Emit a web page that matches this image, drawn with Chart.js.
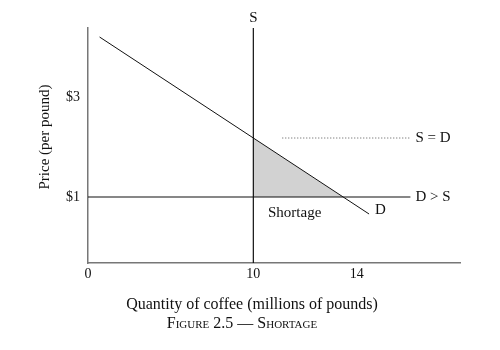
<!DOCTYPE html>
<html>
<head>
<meta charset="utf-8">
<script src="https://cdn.jsdelivr.net/npm/chart.js@4"></script>
<style>
html,body{margin:0;padding:0;background:#fff;}
#wrap{width:500px;height:350px;position:relative;}
</style>
</head>
<body>
<div id="wrap"><canvas id="c" width="500" height="350"></canvas></div>
<script>
// ---- data ----
const xTickPositions = [0, 10, 16.25];
const xTickLabels = ["0", "10", "14"];
const yTickPositions = [1, 3];
const yTickLabels = ["$1", "$3"];

const demandX = [0.7, 17.0];
const demandY = [4.2, 0.66];

const supplyQty = 10;
const supplyPriceRange = [-0.32, 4.38];

const belowPrice = 1;          // price below equilibrium
const equilibriumPrice = 2.18; // where D meets S
const shortageEndQty = 15.41;  // where D meets the $1 line
const priceLineEndQty = 19.5;
const dottedStartQty = 11.75;

const xTitle = "Quantity of coffee (millions of pounds)";
const yTitle = "Price (per pound)";
const caption = "Figure 2.5 — Shortage";

const SERIF = '"Liberation Serif", "DejaVu Serif", serif';

const labelsPlugin = {
  id: 'labelsPlugin',
  afterDatasetsDraw(chart) {
    const {ctx, scales: {x, y}, chartArea} = chart;
    ctx.save();
    ctx.fillStyle = '#111';
    ctx.font = '15px ' + SERIF;
    ctx.textBaseline = 'middle';
    // S label above supply line
    ctx.textAlign = 'center';
    ctx.fillText('S', x.getPixelForValue(supplyQty), chartArea.top - 10);
    // S = D
    ctx.textAlign = 'left';
    ctx.fillText('S = D', x.getPixelForValue(priceLineEndQty) + 5, y.getPixelForValue(equilibriumPrice));
    // D > S
    ctx.fillText('D > S', x.getPixelForValue(priceLineEndQty) + 5, y.getPixelForValue(belowPrice));
    // D
    ctx.fillText('D', x.getPixelForValue(demandX[1]) + 6, y.getPixelForValue(demandY[1]) - 4);
    // Shortage
    ctx.textAlign = 'center';
    ctx.fillText('Shortage', x.getPixelForValue(12.5), y.getPixelForValue(0.68));
    // axis titles
    ctx.font = '16px ' + SERIF;
    ctx.fillText(xTitle, 252, 305);
    ctx.font = '15px ' + SERIF;
    ctx.save();
    ctx.translate(45, 137);
    ctx.rotate(-Math.PI / 2);
    ctx.fillText(yTitle, 0, 0);
    ctx.restore();
    // caption in small caps
    ctx.font = 'small-caps 16px ' + SERIF;
    ctx.fillText(caption, 242, 324);
    ctx.restore();
  }
};

new Chart(document.getElementById('c'), {
  type: 'scatter',
  data: {
    datasets: [
      {
        label: 'Shortage area',
        data: [
          {x: supplyQty, y: belowPrice},
          {x: supplyQty, y: equilibriumPrice},
          {x: shortageEndQty, y: belowPrice},
          {x: supplyQty, y: belowPrice}
        ],
        showLine: true, fill: 'shape', backgroundColor: '#d2d2d2',
        borderWidth: 0, pointRadius: 0, order: 10
      },
      {
        label: 'Demand',
        data: demandX.map((v, i) => ({x: v, y: demandY[i]})),
        showLine: true, borderColor: '#111', borderWidth: 1, pointRadius: 0, order: 1
      },
      {
        label: 'Supply',
        data: supplyPriceRange.map(p => ({x: supplyQty, y: p})),
        showLine: true, borderColor: '#111', borderWidth: 1.2, pointRadius: 0, order: 1
      },
      {
        label: 'Price $1',
        data: [{x: 0, y: belowPrice}, {x: priceLineEndQty, y: belowPrice}],
        showLine: true, borderColor: '#111', borderWidth: 1.2, pointRadius: 0, order: 1
      },
      {
        label: 'Equilibrium',
        data: [{x: dottedStartQty, y: equilibriumPrice}, {x: priceLineEndQty, y: equilibriumPrice}],
        showLine: true, borderColor: '#555', borderWidth: 1, borderDash: [1, 2], pointRadius: 0, order: 1
      }
    ]
  },
  options: {
    responsive: false,
    animation: false,
    layout: {padding: {top: 28, right: 40, left: 0, bottom: 0}},
    plugins: {legend: {display: false}, tooltip: {enabled: false}},
    scales: {
      x: {
        type: 'linear', min: 0, max: 22.5,
        grid: {display: false, drawTicks: false},
        border: {display: true, color: '#777', width: 1.5},
        afterBuildTicks: s => { s.ticks = xTickPositions.map(v => ({value: v})); },
        afterFit: s => { s.height = 87; },
        ticks: {
          padding: 3, color: '#111', font: {family: SERIF, size: 14},
          autoSkip: false, maxRotation: 0,
          callback: (v) => { const i = xTickPositions.indexOf(v); return i >= 0 ? xTickLabels[i] : ''; }
        }
      },
      y: {
        type: 'linear', min: -0.32, max: 4.38,
        grid: {display: false, drawTicks: false},
        border: {display: true, color: '#777', width: 1.5},
        afterBuildTicks: s => { s.ticks = yTickPositions.map(v => ({value: v})); },
        afterFit: s => { s.width = 88; },
        ticks: {
          padding: 8, color: '#111', font: {family: SERIF, size: 14},
          autoSkip: false,
          callback: (v) => { const i = yTickPositions.indexOf(v); return i >= 0 ? yTickLabels[i] : ''; }
        }
      }
    }
  },
  plugins: [labelsPlugin]
});
</script>
</body>
</html>
